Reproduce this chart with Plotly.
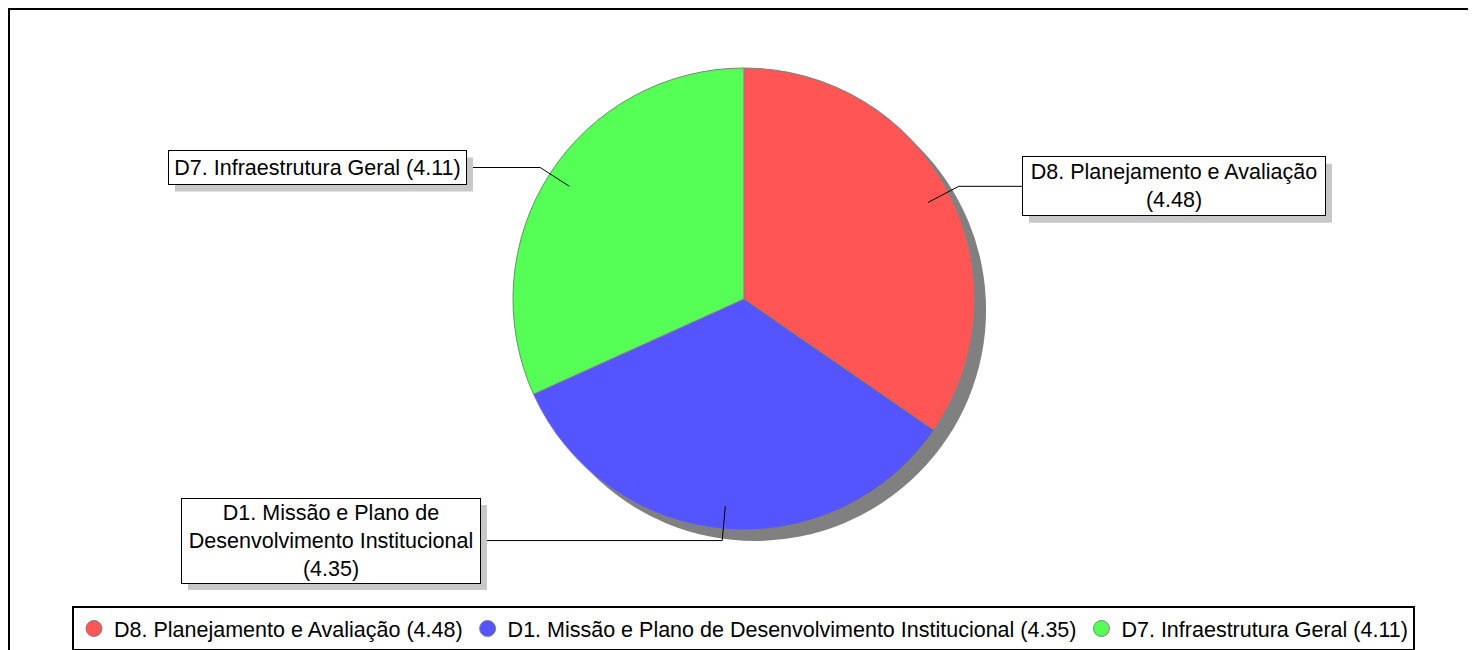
import math
import plotly.graph_objects as go

# ---- data ----
labels = [
    "D8. Planejamento e Avaliação",
    "D1. Missão e Plano de Desenvolvimento Institucional",
    "D7. Infraestrutura Geral",
]
values = [4.48, 4.35, 4.11]
colors = ["#FF5555", "#5555FF", "#55FF55"]
# label box text (with manual line breaks as in the reference)
box_texts = [
    "D8. Planejamento e Avaliação<br>(4.48)",
    "D1. Missão e Plano de<br>Desenvolvimento Institucional<br>(4.35)",
    "D7. Infraestrutura Geral (4.11)",
]

# ---- layout constants (pixels, in screenshot coordinates) ----
W, H = 1476, 650
OFF = 8                              # page body margin
CX, CY, R = 744, 299, 231            # pie centre and radius
SHADOW = 11                          # pie shadow offset
FONT = "Liberation Sans, Arial, sans-serif"
FS = 21.5
# label boxes: (left, right, height) ; vertical centre follows leader elbow
boxes = [
    (1022, 1325, 59),
    (181, 480, 85),
    (168, 466, 34),
]
BOX_SHADOW = 7


def px(x):
    return (x - OFF) / W


def py(y):
    return 1 - (y - OFF) / H


fig = go.Figure()

# shadow pie
fig.add_trace(go.Pie(
    values=[1], labels=["shadow"], marker=dict(colors=["#808080"], line=dict(width=0)),
    textinfo="none", hoverinfo="skip", showlegend=False, sort=False,
    domain=dict(x=[px(CX - R + SHADOW), px(CX + R + SHADOW)],
                y=[py(CY + R + SHADOW), py(CY - R + SHADOW)]),
))

# main pie
fig.add_trace(go.Pie(
    values=values, labels=labels, marker=dict(colors=colors, line=dict(color="#808080", width=1)),
    textinfo="none", sort=False, direction="clockwise", rotation=0, showlegend=False,
    domain=dict(x=[px(CX - R), px(CX + R)], y=[py(CY + R), py(CY - R)]),
    hovertemplate="%{label}: %{value}<extra></extra>",
))

# legend entries (circle markers)
for lab, val, col in zip(labels, values, colors):
    fig.add_trace(go.Scatter(
        x=[None], y=[None], mode="markers", name=f"{lab} ({val:.2f})",
        marker=dict(symbol="circle", size=16, color=col, line=dict(color="#808080", width=1)),
    ))

shapes = []
annotations = []

# outer frame
shapes.append(dict(type="rect", xref="paper", yref="paper",
                   x0=px(9), x1=px(W + 40), y0=py(H + 40), y1=py(9),
                   line=dict(color="black", width=2), fillcolor="rgba(0,0,0,0)", layer="below"))

total = sum(values)
cum = 0.0
for i, v in enumerate(values):
    mid = (cum + v / 2) / total * 2 * math.pi
    cum += v
    sx, sy = math.sin(mid), -math.cos(mid)
    inner = (CX + sx * R * 0.9, CY + sy * R * 0.9)
    elbow = (CX + sx * R * 1.05, CY + sy * R * 1.05)
    left, right, bh = boxes[i]
    cy = elbow[1]
    top, bot = cy - bh / 2, cy + bh / 2
    edge_x = left if elbow[0] < left else right
    # leader line
    shapes.append(dict(type="path", xref="paper", yref="paper",
                       path=f"M {px(inner[0])},{py(inner[1])} L {px(elbow[0])},{py(elbow[1])} L {px(edge_x)},{py(cy)}",
                       line=dict(color="black", width=1)))
    # box shadow
    shapes.append(dict(type="rect", xref="paper", yref="paper",
                       x0=px(left + BOX_SHADOW), x1=px(right + BOX_SHADOW),
                       y0=py(bot + BOX_SHADOW), y1=py(top + BOX_SHADOW),
                       line=dict(width=0), fillcolor="#c8c8c8"))
    annotations.append(dict(
        xref="paper", yref="paper", x=px((left + right) / 2), y=py(cy),
        xanchor="center", yanchor="middle", showarrow=False,
        text=box_texts[i], align="center", valign="middle",
        width=right - left - 1, height=bh - 1, borderpad=0,
        bordercolor="black", borderwidth=1, bgcolor="white",
        font=dict(family=FONT, size=FS, color="black"),
    ))

fig.update_layout(
    width=W, height=H,
    margin=dict(l=0, r=0, t=0, b=0),
    paper_bgcolor="white", plot_bgcolor="white",
    xaxis=dict(visible=False), yaxis=dict(visible=False),
    shapes=shapes, annotations=annotations,
    font=dict(family=FONT, size=FS, color="black"),
    showlegend=True,
    legend=dict(orientation="h", x=px(72), y=py(606), xanchor="left", yanchor="top",
                bordercolor="black", borderwidth=2, bgcolor="white",
                font=dict(family=FONT, size=FS, color="black"), itemclick=False),
    hovermode="closest",
)

fig.write_html("out.html")
